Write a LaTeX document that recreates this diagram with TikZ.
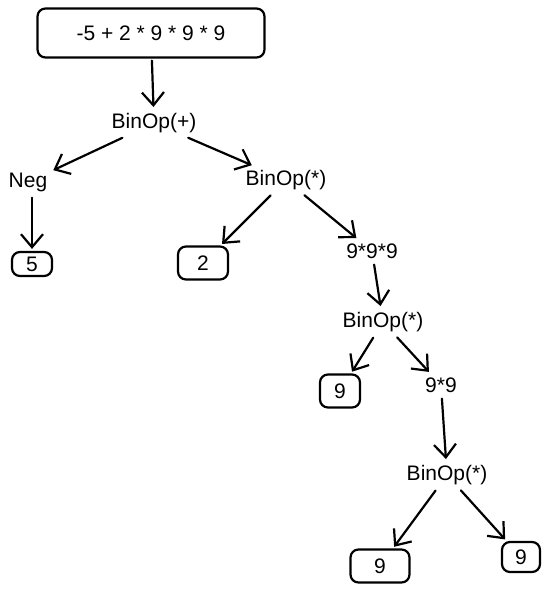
\documentclass[tikz,border=0pt]{standalone}
\usepackage{fontspec}
\setmainfont{Liberation Sans}
\usetikzlibrary{arrows.meta}
\begin{document}
\begin{tikzpicture}[x=1pt,y=-1pt,
  lbl/.style={font=\fontsize{21}{24}\selectfont, inner sep=4pt},
  box/.style={lbl, draw, line width=2.2pt, rounded corners=8pt, inner sep=0pt},
  arr/.style={line width=2.2pt, line cap=round, -{Straight Barb[length=13pt,width=22pt,line width=2.2pt]}, shorten >=2pt, shorten <=2pt}]
\useasboundingbox (0,0) rectangle (550,594);
\node[box, minimum width=227, minimum height=49] (top) at (151,33) {-5 + 2 * 9 * 9 * 9};
\node[lbl] (plus) at (154,123) {BinOp(+)};
\node[lbl] (neg) at (28,182) {Neg};
\node[box, minimum width=40, minimum height=24] (five) at (32,264) {5};
\node[lbl] (m1) at (286,180) {BinOp(*)};
\node[box, minimum width=50, minimum height=33] (two) at (203,263) {2};
\node[lbl] (e1) at (372,251) {9*9*9};
\node[lbl] (m2) at (383,322) {BinOp(*)};
\node[box, minimum width=40, minimum height=33] (n1) at (340,391) {9};
\node[lbl] (e2) at (441,385) {9*9};
\node[lbl] (m3) at (447,475) {BinOp(*)};
\node[box, minimum width=59, minimum height=33] (n2) at (380,566) {9};
\node[box, minimum width=38, minimum height=30] (n3) at (521,557) {9};
\draw[arr] (top) -- (plus);
\draw[arr] (plus) -- (neg);
\draw[arr] (plus) -- (m1);
\draw[arr] (neg.south -| five.north) -- (five.north);
\draw[arr] (m1) -- (two);
\draw[arr] (m1) -- (e1);
\draw[arr] (e1) -- (m2);
\draw[arr] (m2) -- (n1);
\draw[arr] (m2) -- (e2);
\draw[arr] (e2) -- (m3);
\draw[arr] (m3) -- (n2);
\draw[arr] (m3) -- (n3);
\end{tikzpicture}
\end{document}
